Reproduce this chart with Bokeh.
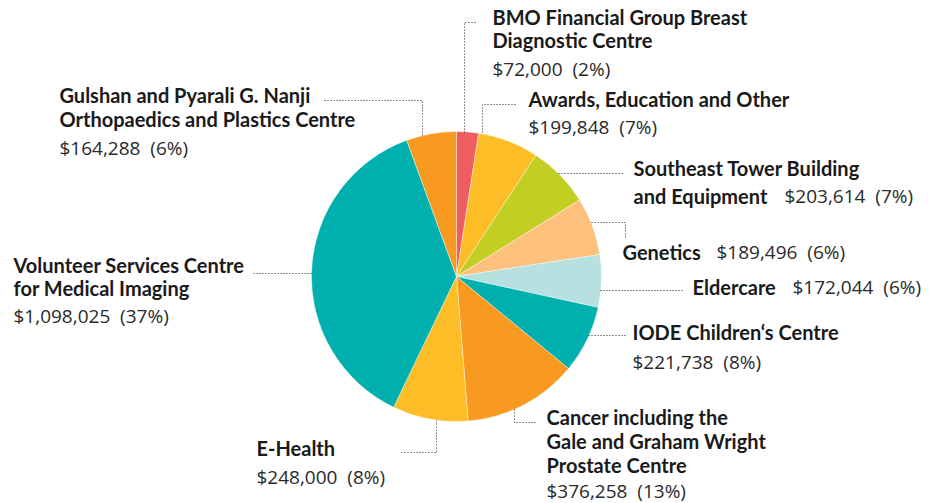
import math
from bokeh.plotting import figure
from bokeh.models import Range1d, ColumnDataSource
from bokeh.core.properties import value
from bokeh.embed import file_html
from bokeh.resources import INLINE

# ---- data ----
names = [
    "BMO Financial Group Breast\nDiagnostic Centre",
    "Awards, Education and Other",
    "Southeast Tower Building\nand Equipment",
    "Genetics",
    "Eldercare",
    "IODE Children\u2018s Centre",
    "Cancer including the\nGale and Graham Wright\nProstate Centre",
    "E-Health",
    "Volunteer Services Centre\nfor Medical Imaging",
    "Gulshan and Pyarali G. Nanji\nOrthopaedics and Plastics Centre",
]
amounts = [72000, 199848, 203614, 189496, 172044, 221738, 376258, 248000, 1098025, 164288]
colors = ["#F05D60", "#FDBD26", "#C3CE23", "#FDC07D", "#B6E1E0", "#00B0AE",
          "#F89A20", "#FDBD26", "#00B0AE", "#F89A20"]

W, H = 934, 503
CX, CY, R = 456, 276, 145
TEXT_SHIFT = -7  # compensation for rendered baseline

# ---- layout (pixel coords, y downward) ----
layout = [
    dict(nx=492, nb=[23, 46], ax=492, ab=75, lead=[(464, 132), (464, 22), (477, 22)]),
    dict(nx=528, nb=[105], ax=528, ab=133, lead=[(482, 132), (482, 104), (517, 104)]),
    dict(nx=633, nb=[174, 202], ax=784, ab=202, lead=[(558, 173), (622, 173)]),
    dict(nx=622, nb=[258], ax=716, ab=258, lead=[(591, 222), (625, 222), (625, 239)]),
    dict(nx=692, nb=[293], ax=792, ab=293, lead=[(600, 290), (683, 290)]),
    dict(nx=632, nb=[338], ax=632, ab=368, lead=[(588, 335), (625, 335)]),
    dict(nx=546, nb=[423, 447, 471], ax=546, ab=497, lead=[(514, 409), (514, 422), (537, 422)]),
    dict(nx=256, nb=[454], ax=256, ab=483, lead=[(436, 420), (436, 452), (401, 452)]),
    dict(nx=13, nb=[271, 294], ax=13, ab=322, lead=[(253, 273), (311, 273)]),
    dict(nx=59, nb=[101, 125], ax=59, ab=154, lead=[(324, 100), (422, 100), (422, 135)]),
]

def Y(y):
    return H - y

p = figure(width=W, height=H, x_range=Range1d(0, W), y_range=Range1d(0, H),
           output_backend="svg", toolbar_location=None,
           x_axis_location=None, y_axis_location=None, min_border=0)
p.outline_line_color = None
p.grid.visible = False
p.background_fill_color = "white"
p.border_fill_color = "white"

# ---- wedges ----
total = sum(amounts)
starts, ends = [], []
cum = 0
for a in amounts:
    starts.append(math.pi / 2 - 2 * math.pi * cum / total)
    cum += a
    ends.append(math.pi / 2 - 2 * math.pi * cum / total)
src = ColumnDataSource(dict(x=[CX] * len(amounts), y=[Y(CY)] * len(amounts),
                            start=starts, end=ends, color=colors))
p.wedge(x="x", y="y", radius=R, start_angle="start", end_angle="end",
        direction="clock", fill_color="color", line_color="white", line_width=0.4,
        source=src)

# ---- leaders ----
for L in layout:
    xs = [pt[0] for pt in L["lead"]]
    ys = [Y(pt[1]) for pt in L["lead"]]
    p.line(xs, ys, line_color="#222222", line_width=1, line_dash="1 2")

# ---- texts ----
pcts = [round(a / total * 100) for a in amounts]
bx, by, bt = [], [], []
ax_, ay, at = [], [], []
for n, a, pc, L in zip(names, amounts, pcts, layout):
    for line, b in zip(n.split("\n"), L["nb"]):
        bx.append(L["nx"]); by.append(Y(b + TEXT_SHIFT)); bt.append(line)
    ax_.append(L["ax"]); ay.append(Y(L["ab"] + TEXT_SHIFT))
    at.append(f"${a:,}\u00a0\u00a0({pc}%)")

p.text(x=bx, y=by, text=bt, text_font=value("Lato"), text_font_style="bold",
       text_font_size="20px", text_color="#1a1a1a", text_baseline="alphabetic")
p.text(x=ax_, y=ay, text=at, text_font=value("Open Sans"), text_font_style="normal",
       text_font_size="19px", text_color="#2a2a2a", text_baseline="alphabetic")

open("out.html", "w").write(file_html(p, INLINE))
